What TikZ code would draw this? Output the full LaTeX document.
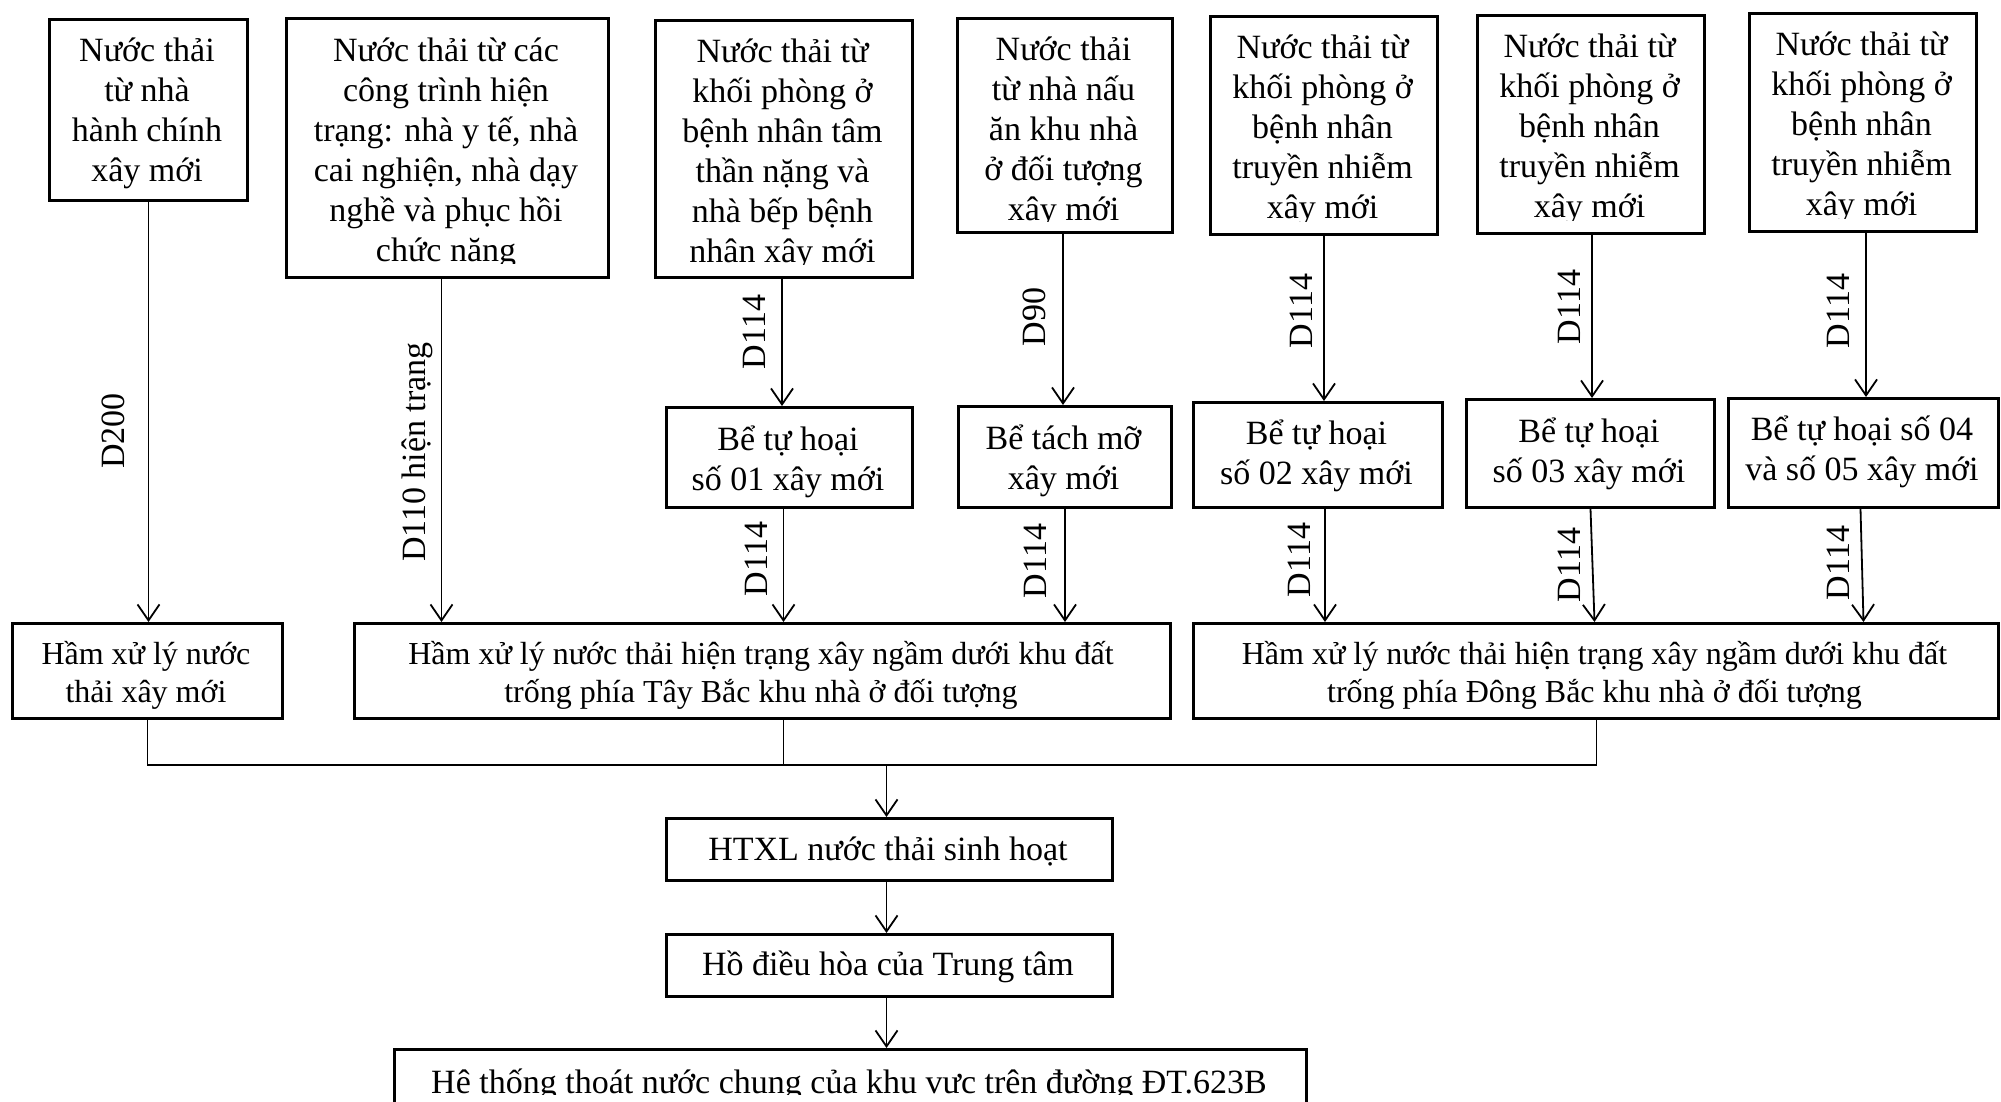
\documentclass[tikz,border=0pt]{standalone}
\usepackage{fontspec}
\setmainfont{Liberation Serif}
\usetikzlibrary{arrows.meta}
\newcommand\fa{\fontsize{34}{40}\selectfont}
\newcommand\fb{\fontsize{32}{38}\selectfont}
\tikzset{
  frame/.style={draw, shape=rectangle, line width=3pt, inner sep=0pt},
  txt/.style={inner sep=0pt},
  ln/.style={line width=1.8pt},
  arr/.style={line width=1.8pt, -{Straight Barb[length=16pt,width=22pt]}},
  lbl/.style={rotate=90, anchor=base, inner sep=0pt, font=\fa}
}
% name, x1, y1, x2, y2, clip-y, baseline-y, font, text
\newcommand\wbox[9]{%
  \node[frame, anchor=north west, minimum width={(#4-#2)*1pt}, minimum height={(#5-#3)*1pt}] (#1) at (#2,#3) {};
  \begin{scope}
    \clip (#2,#3) rectangle (#4,#6);
    \node[txt, anchor=base] (#1t) at ({(#2+#4)/2},#7) {\parbox[t]{\dimexpr #4pt-#2pt\relax}{\centering#8#9}};
  \end{scope}}
\begin{document}
\begin{tikzpicture}[x=1pt,y=-1pt]
\useasboundingbox (0,0) rectangle (2001,1101);
\clip (0,0) rectangle (2001,1101);
% top row
\wbox{b1}{48}{18}{246}{199}{199}{61}{\fa}{Nước thải\\từ nhà\\hành chính\\xây mới}
\wbox{b2}{285}{17}{607}{276}{263}{61}{\fa}{Nước thải từ các\\công trình hiện\\trạng: nhà y tế, nhà\\cai nghiện, nhà dạy\\nghề và phục hồi\\chức năng}
\wbox{b3}{654}{19}{911}{276}{264}{62}{\fa}{Nước thải từ\\khối phòng ở\\bệnh nhân tâm\\thần nặng và\\nhà bếp bệnh\\nhân xây mới}
\wbox{b4}{956}{17}{1171}{231}{221}{60}{\fa}{Nước thải\\từ nhà nấu\\ăn khu nhà\\ở đối tượng\\xây mới}
\wbox{b5}{1209}{15}{1436}{233}{221}{58}{\fa}{Nước thải từ\\khối phòng ở\\bệnh nhân\\truyền nhiễm\\xây mới}
\wbox{b6}{1476}{14}{1703}{232}{220}{57}{\fa}{Nước thải từ\\khối phòng ở\\bệnh nhân\\truyền nhiễm\\xây mới}
\wbox{b7}{1748}{12}{1975}{230}{218}{55}{\fa}{Nước thải từ\\khối phòng ở\\bệnh nhân\\truyền nhiễm\\xây mới}
% septic row
\wbox{s1}{665}{406}{911}{506}{506}{450}{\fa}{Bể tự hoại\\số 01 xây mới}
\wbox{s2}{957}{405}{1170}{506}{506}{449}{\fa}{Bể tách mỡ\\xây mới}
\wbox{s3}{1192}{401}{1441}{506}{506}{444}{\fa}{Bể tự hoại\\số 02 xây mới}
\wbox{s4}{1465}{398}{1713}{506}{506}{442}{\fa}{Bể tự hoại\\số 03 xây mới}
\wbox{s5}{1727}{397}{1997}{506}{506}{440}{\fa}{Bể tự hoại số 04\\và số 05 xây mới}
% treatment row
\wbox{h1}{11}{622}{281}{717}{717}{664}{\fb}{Hầm xử lý nước\\thải xây mới}
\wbox{h2}{353}{622}{1169}{717}{717}{664}{\fb}{Hầm xử lý nước thải hiện trạng xây ngầm dưới khu đất\\trống phía Tây Bắc khu nhà ở đối tượng}
\wbox{h3}{1192}{622}{1997}{717}{717}{664}{\fb}{Hầm xử lý nước thải hiện trạng xây ngầm dưới khu đất\\trống phía Đông Bắc khu nhà ở đối tượng}
% bottom chain
\wbox{t1}{665}{817}{1111}{879}{879}{860}{\fa}{HTXL nước thải sinh hoạt}
\wbox{t2}{665}{933}{1111}{995}{995}{975}{\fa}{Hồ điều hòa của Trung tâm}
\wbox{t3}{393}{1048}{1305}{1130}{1094}{1093}{\fa}{Hệ thống thoát nước chung của khu vực trên đường ĐT.623B}
% connectors
\draw[arr] (b1.south) -- (b1.south |- h1.north);
\draw[arr] ([xshift=-6pt]b2.south) -- ([xshift=-6pt]b2.south |- h2.north);
\draw[arr] ([xshift=-2pt]b3.south) -- ([xshift=-2pt]b3.south |- s1.north);
\draw[arr] ([xshift=-6pt]s1.south) -- ([xshift=-6pt]s1.south |- h2.north);
\draw[arr] ([xshift=-2pt]b4.south) -- ([xshift=-2pt]b4.south |- s2.north);
\draw[arr] (s2.south) -- (s2.south |- h2.north);
\draw[arr] (b5.south) -- (b5.south |- s3.north);
\draw[arr] ([xshift=7pt]s3.south) -- ([xshift=7pt]s3.south |- h3.north);
\draw[arr] ([xshift=1pt]b6.south) -- ([xshift=1pt]b6.south |- s4.north);
\draw[arr] (s4.south) -- ([xshift=4pt]s4.south |- h3.north);
\draw[arr] ([xshift=3pt]b7.south) -- ([xshift=3pt]b7.south |- s5.north);
\draw[arr] ([xshift=-3pt]s5.south) -- (s5.south |- h3.north);
% collector
\coordinate (bus) at (0,765);
\draw[ln] (h1.south) |- ([xshift=0.5pt]h3.south |- bus) -- ([xshift=0.5pt]h3.south);
\draw[ln] ([xshift=21pt]h2.south) -- ([xshift=21pt]h2.south |- bus);
\draw[arr] ([xshift=-3pt]t1.north |- bus) -- ([xshift=-3pt]t1.north);
\draw[arr] ([xshift=-3pt]t1.south) -- ([xshift=-3pt]t2.north);
\draw[arr] ([xshift=-3pt]t2.south) -- ([xshift=-3pt]t2.south |- t3.north);
% pipe labels
\node[lbl] (l1) at (124,431) {D200};
\node[lbl] (l2) at (425,452) {D110 hiện trạng};
\node[lbl] (l3) at (765,332) {D114};
\node[lbl] (l4) at (767,559) {D114};
\node[lbl] (l5) at (1045,317) {D90};
\node[lbl] (l6) at (1046,561) {D114};
\node[lbl] (l7) at (1312,311) {D114};
\node[lbl] (l8) at (1310,560) {D114};
\node[lbl] (l9) at (1580,307) {D114};
\node[lbl] (l10) at (1580,565) {D114};
\node[lbl] (l11) at (1849,311) {D114};
\node[lbl] (l12) at (1849,563) {D114};
\end{tikzpicture}
\end{document}
